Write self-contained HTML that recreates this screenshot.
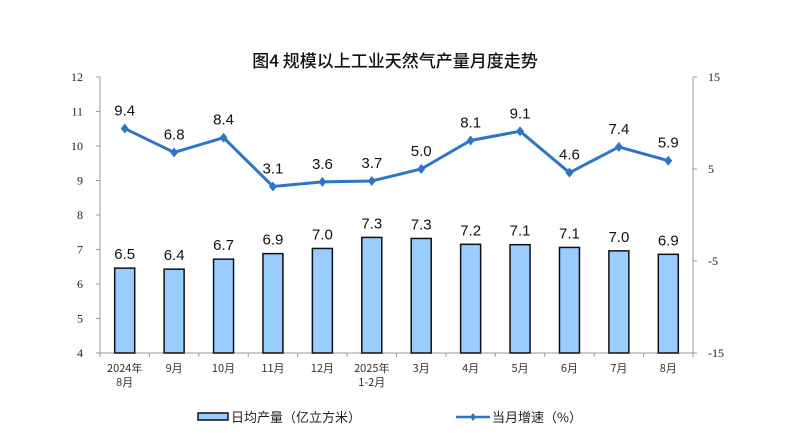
<!DOCTYPE html>
<html><head><meta charset="utf-8"><style>
body{margin:0;background:#fff;}
svg{display:block;}
text{font-family:"Liberation Sans","Noto Sans CJK SC",sans-serif;}
.ax{font-family:"Liberation Serif","Noto Serif CJK SC",serif;font-size:12px;fill:#222;}
.cn{font-family:"Noto Sans CJK SC",sans-serif;font-size:11px;fill:#333;}
.lb{font-size:15px;fill:#111;}
</style></head><body>
<svg id="c" width="790" height="448" xmlns="http://www.w3.org/2000/svg">
<text x="395" y="67" text-anchor="middle" style="font-family:'Noto Sans CJK SC',sans-serif;font-size:17px;font-weight:500;fill:#111">图4  规模以上工业天然气产量月度走势</text>
</svg>
<script>
const s=document.getElementById('c');const NS='http://www.w3.org/2000/svg';
function el(t,a,txt){const e=document.createElementNS(NS,t);for(const k in a)e.setAttribute(k,a[k]);if(txt!==undefined)e.textContent=txt;s.appendChild(e);return e;}
const L=100,R=693,T=77,B=353,n=12,w=(R-L)/n;
const bars=[6.46,6.43,6.72,6.88,7.03,7.35,7.32,7.15,7.14,7.06,6.96,6.86];
const blab=[6.5,6.4,6.7,6.9,7.0,7.3,7.3,7.2,7.1,7.1,7.0,6.9];
const line=[9.4,6.8,8.4,3.1,3.6,3.7,5.0,8.1,9.1,4.6,7.4,5.9];
const cats=[["2024年","8月"],["9月"],["10月"],["11月"],["12月"],["2025年","1-2月"],["3月"],["4月"],["5月"],["6月"],["7月"],["8月"]];
const yl=v=>B-(v-4)*(B-T)/8, yr=v=>T+(15-v)*(B-T)/30;
el('line',{x1:L,y1:T,x2:L,y2:B,stroke:'#999'});
el('line',{x1:R,y1:T,x2:R,y2:B,stroke:'#999'});
el('line',{x1:L,y1:B,x2:R,y2:B,stroke:'#999'});
for(let v=4;v<=12;v++){const y=yl(v);el('line',{x1:L-4,y1:y,x2:L,y2:y,stroke:'#999'});el('text',{x:83,y:y+4,class:'ax','text-anchor':'end'},v);}
[15,5,-5,-15].forEach(v=>{const y=yr(v);el('line',{x1:R,y1:y,x2:R+4,y2:y,stroke:'#999'});el('text',{x:708,y:y+4,class:'ax'},v);});
for(let i=0;i<=n;i++){const x=L+i*w;el('line',{x1:x,y1:B,x2:x,y2:B+4,stroke:'#999'});}
bars.forEach((v,i)=>{const cx=L+(i+0.5)*w;el('rect',{x:cx-10,y:yl(v),width:20,height:B-yl(v),fill:'#99ccff',stroke:'#111','stroke-width':1.5});
el('text',{x:cx,y:yl(v)-9,class:'lb','text-anchor':'middle'},blab[i].toFixed(1));
cats[i].forEach((c,j)=>el('text',{x:cx,y:372+j*14,class:'cn','text-anchor':'middle'},c));});
el('polyline',{points:line.map((v,i)=>(L+(i+0.5)*w)+','+yr(v)).join(' '),fill:'none',stroke:'#2e75c7','stroke-width':3});
line.forEach((v,i)=>{const cx=L+(i+0.5)*w,y=yr(v);el('path',{d:`M${cx} ${y-5}L${cx+4} ${y}L${cx} ${y+5}L${cx-4} ${y}Z`,fill:'#2e75c7'});
el('text',{x:cx,y:y-13,class:'lb','text-anchor':'middle'},v.toFixed(1));});
el('rect',{x:198,y:413,width:30,height:7,fill:'#99ccff',stroke:'#111','stroke-width':1.5});
el('text',{x:231,y:422,style:"font-family:'Noto Sans CJK SC',sans-serif;font-size:13px;fill:#222"},'日均产量（亿立方米）');
el('line',{x1:456,y1:417,x2:490,y2:417,stroke:'#2e75c7','stroke-width':2.5});
el('path',{d:'M473 413L476 417L473 421L470 417Z',fill:'#2e75c7'});
el('text',{x:492,y:422,style:"font-family:'Noto Sans CJK SC',sans-serif;font-size:13px;fill:#222"},'当月增速（%）');
</script>
</body></html>
